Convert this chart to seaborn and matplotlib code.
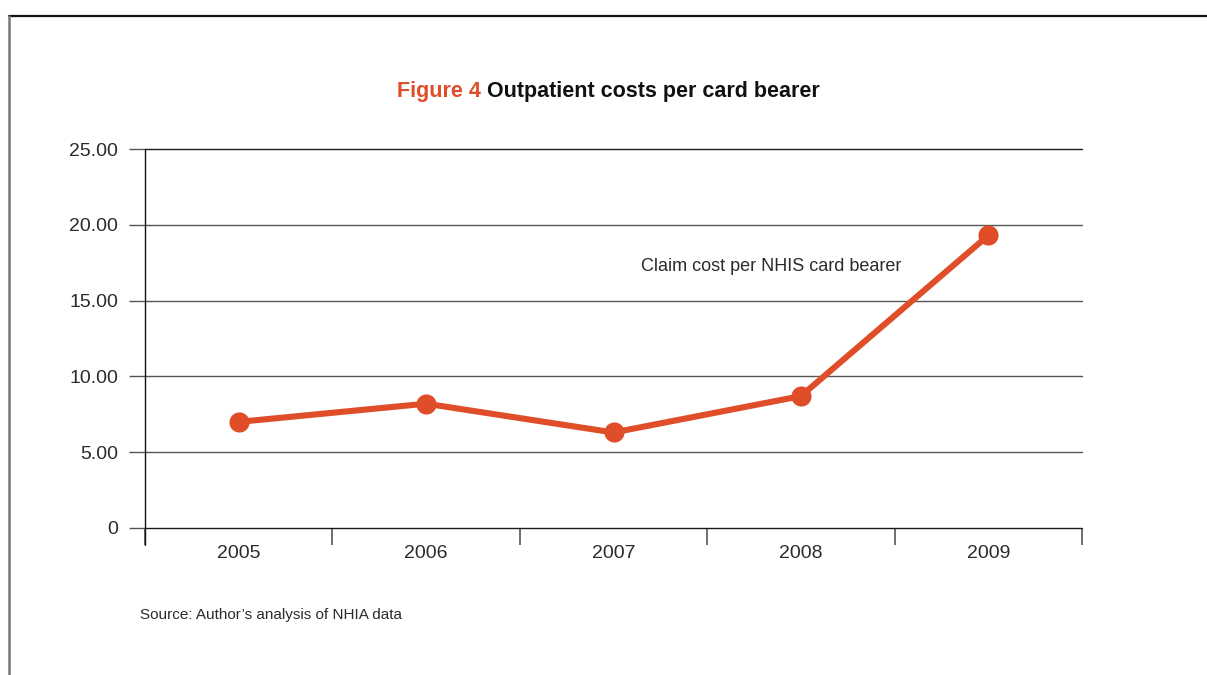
import matplotlib
matplotlib.use("Agg")
import matplotlib.pyplot as plt
from matplotlib.lines import Line2D
import numpy as np
import pandas as pd
import seaborn as sns

# Outpatient claim cost per NHIS card bearer, by year
years = ["2005", "2006", "2007", "2008", "2009"]
cost_per_bearer = [7.0, 8.2, 6.3, 8.7, 19.3]
y_ticks = [0, 5, 10, 15, 20, 25]
y_tick_labels = ["0", "5.00", "10.00", "15.00", "20.00", "25.00"]

sns.set_theme(style="white")
plt.rcParams["font.family"] = ["Liberation Sans", "DejaVu Sans"]

ORANGE = "#DF4E29"
TEXT = "#2b2b2b"

fig = plt.figure(figsize=(12.07, 6.75), dpi=100)
W, H = 1207, 675
ax = fig.add_axes([145 / W, 1 - 528 / H, (1082 - 145) / W, (528 - 149) / H])

df = pd.DataFrame({"pos": np.arange(len(years)), "cost": cost_per_bearer})
sns.lineplot(data=df, x="pos", y="cost", ax=ax, color=ORANGE, linewidth=4.4,
             marker="o", markersize=14.5, markeredgewidth=0, zorder=5)

ax.set_xlim(-0.5, len(years) - 0.5)
ax.set_ylim(0, 25)
ax.set_xlabel("")
ax.set_ylabel("")

for s in ax.spines.values():
    s.set_visible(False)

# horizontal rules at each y tick
for v in y_ticks:
    ax.axhline(v, color="#1a1a1a" if v in (0, 25) else "#555555", lw=1.0,
               zorder=1, clip_on=False)

ax.set_yticks(y_ticks)
ax.set_yticklabels(y_tick_labels)
ax.tick_params(axis="y", length=11.5, width=1.0, color="#555555", direction="out",
               pad=8, labelsize=14, labelcolor=TEXT, left=True)

# category boundaries as major ticks, year labels on minor ticks
ax.set_xticks(np.arange(-0.5, len(years)), labels=[""] * (len(years) + 1))
ax.set_xticks(np.arange(len(years)), labels=years, minor=True)
ax.tick_params(axis="x", which="major", length=12.5, width=1.2, color="#555555",
               direction="out", bottom=True)
ax.tick_params(axis="x", which="minor", length=0, pad=12, labelsize=14,
               labelcolor=TEXT, bottom=True)

# vertical axis line running down to the tick marks
ax.add_line(Line2D([-0.5, -0.5], [-17 / 15.16, 25], color="#111111", lw=1.0,
                   clip_on=False, zorder=2))

ax.text(0.529, 0.691, "Claim cost per NHIS card bearer", transform=ax.transAxes,
        fontsize=13, color=TEXT, va="center", ha="left")

# title in two colours, centred as a whole
title_y = 1 - 92 / H
t1 = fig.text(0, title_y, "Figure 4", fontsize=15.5, fontweight="bold",
              color=ORANGE, va="center", ha="left")
t2 = fig.text(0, title_y, "Outpatient costs per card bearer", fontsize=15.5,
              fontweight="bold", color="#111111", va="center", ha="left")
fig.canvas.draw()
w1 = t1.get_window_extent().width
w2 = t2.get_window_extent().width
gap = 6
x0 = 608.5 - (w1 + gap + w2) / 2
t1.set_x(x0 / W)
t2.set_x((x0 + w1 + gap) / W)

fig.text(140 / W, 1 - 615 / H, "Source: Author\u2019s analysis of NHIA data",
         fontsize=11, color=TEXT, va="center", ha="left")

# page frame
fig.add_artist(Line2D([8.5 / W, 1.0], [1 - 15.5 / H, 1 - 15.5 / H], color="#111111", lw=1.6))
fig.add_artist(Line2D([8.5 / W, 8.5 / W], [1 - 15.5 / H, 0], color="#777777", lw=1.8))

fig.savefig("out.png", dpi=100)
